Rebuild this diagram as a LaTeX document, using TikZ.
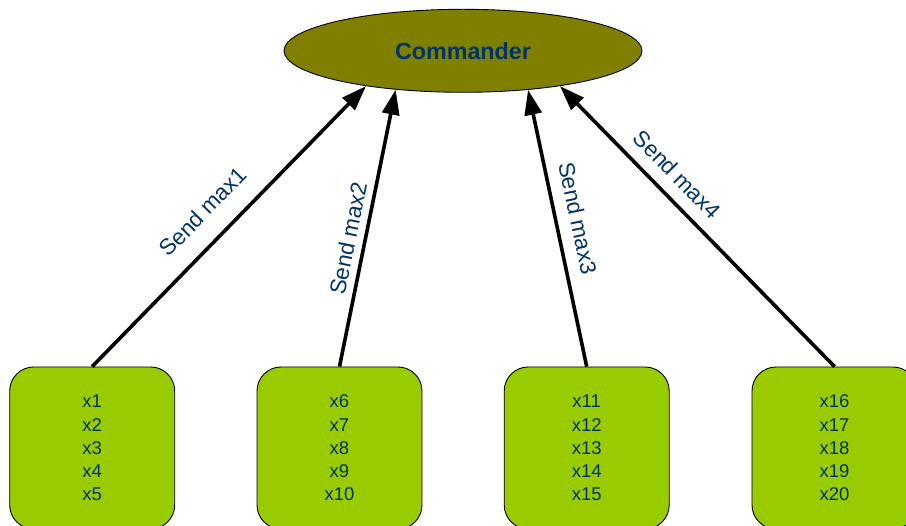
\documentclass[tikz,border=0pt]{standalone}
\usepackage{fontspec}
\setmainfont{Liberation Sans}
\usetikzlibrary{arrows.meta,shapes.geometric}

\definecolor{olivefill}{RGB}{128,128,0}
\definecolor{leaf}{RGB}{153,204,0}
\definecolor{navytext}{RGB}{0,51,102}

\tikzset{
  commander/.style={ellipse, draw=black, line width=0.9pt, fill=olivefill,
    minimum width=358pt, minimum height=83pt, inner sep=0pt,
    text=navytext, font=\fontsize{23.3}{28}\selectfont\bfseries},
  databox/.style={rectangle, rounded corners=24pt, draw=black, line width=0.9pt,
    fill=leaf, minimum width=165pt, minimum height=162pt, inner sep=0pt,
    align=center, text=navytext, font=\fontsize{18.5}{23.2}\selectfont},
  sendarrow/.style={line width=3.6pt, -{Triangle[length=25pt,width=17pt]}},
  sendlabel/.style={sloped, text=navytext, font=\fontsize{22.5}{27}\selectfont,
    inner sep=0pt}
}

\begin{document}
\begin{tikzpicture}[x=1pt, y=-1pt]
  \useasboundingbox (0,0) rectangle (906,526);

  % coordinator at the top
  \node[commander] (cmd) at (463,50.8) {Commander};

  % the four workers, each holding five values
  \node[databox] (b1) at (92.2,448)  {x1\\x2\\x3\\x4\\x5};
  \node[databox] (b2) at (339.5,448) {x6\\x7\\x8\\x9\\x10};
  \node[databox] (b3) at (586.7,448) {x11\\x12\\x13\\x14\\x15};
  \node[databox] (b4) at (834.5,448) {x16\\x17\\x18\\x19\\x20};

  % each worker reports its maximum
  \draw[sendarrow] (b1.north) -- (cmd.200)
    node[sendlabel, pos=0.48, above=19pt] {Send max1};
  \draw[sendarrow] (b2.north) -- (cmd.210)
    node[sendlabel, pos=0.45, above=7pt] {Send max2};
  \draw[sendarrow] (b3.north) -- (cmd.329)
    node[sendlabel, pos=0.52, above=12pt] {Send max3};
  \draw[sendarrow] (b4.north) -- (cmd.340)
    node[sendlabel, pos=0.63, above=12pt] {Send max4};
\end{tikzpicture}
\end{document}
